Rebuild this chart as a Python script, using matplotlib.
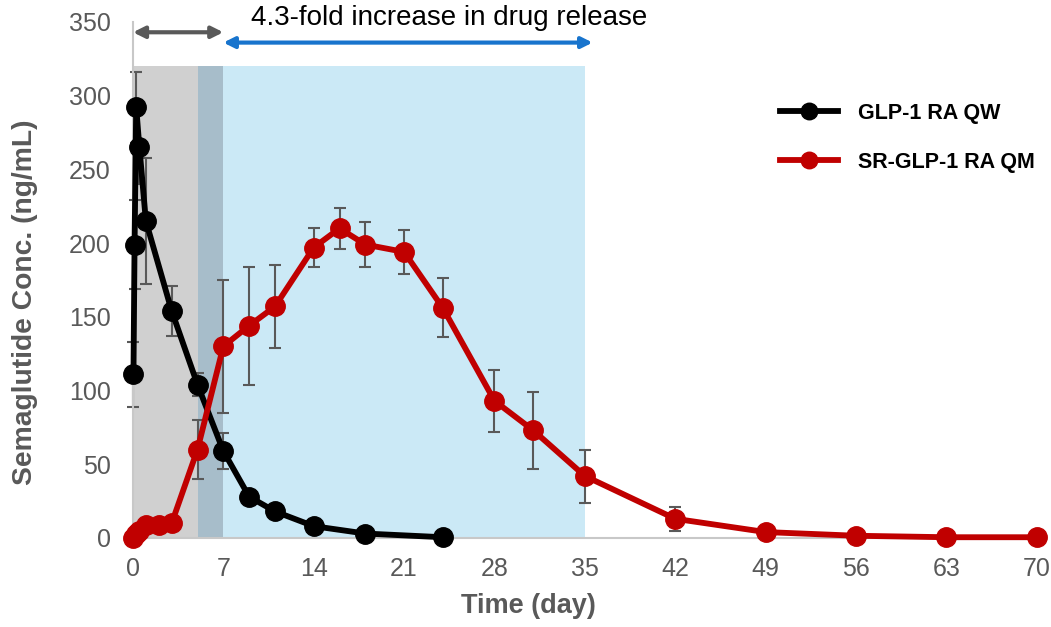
import matplotlib.pyplot as plt

plt.rcParams['font.family'] = ['Liberation Sans', 'DejaVu Sans']

# Semaglutide PK data
qw_days = [0.04, 0.125, 0.25, 0.5, 1, 3, 5, 7, 9, 11, 14, 18, 24]
qw_conc = [111, 199, 292, 265, 215, 154, 104, 59, 28, 18, 8, 3, 0.5]
qw_err = [22, 30, 24, 25, 43, 17, 8, 12, 0, 0, 0, 0, 0]

qm_days = [0, 0.25, 0.5, 1, 2, 3, 5, 7, 9, 11, 14, 16, 18, 21, 24, 28, 31, 35, 42, 49, 56, 63, 70]
qm_conc = [0, 3, 5, 9, 9, 10, 60, 130, 144, 157, 197, 210, 199, 194, 156, 93, 73, 42, 13, 4, 1.5, 0.5, 0.5]
qm_err = [0, 0, 0, 0, 0, 0, 20, 45, 40, 28, 13, 14, 15, 15, 20, 21, 26, 18, 8, 0, 0, 0, 0]

x_ticks = [0, 7, 14, 21, 28, 35, 42, 49, 56, 63, 70]
y_ticks = [0, 50, 100, 150, 200, 250, 300, 350]

qw_window = (0, 7)
qm_window = (5, 35)
shade_top = 320

GREY = '#595959'
RED = '#c00000'

fig = plt.figure(figsize=(10.51, 6.27), dpi=100)
ax = fig.add_axes([0.1265, 0.142, 0.860, 0.823])

# shaded dosing windows
ax.fill_between(qw_window, 0, shade_top, color='#d0d0d0', lw=0, zorder=0)
ax.fill_between(qm_window, 0, shade_top, color='#cbe9f6', lw=0, zorder=0)
ax.fill_between((qm_window[0], qw_window[1]), 0, shade_top, color='#a7bdca', lw=0, zorder=0)

for days, conc, err in [(qw_days, qw_conc, qw_err), (qm_days, qm_conc, qm_err)]:
    eb = ax.errorbar(days, conc, yerr=err, fmt='none', ecolor=GREY,
                     elinewidth=1.5, capsize=4, capthick=1.5, zorder=2)
    for art in eb.lines[1] + eb.lines[2]:
        art.set_clip_on(False)

ax.plot(qw_days, qw_conc, color='black', lw=4.2, marker='o', ms=14,
        label='GLP-1 RA QW', zorder=3, clip_on=False)
ax.plot(qm_days, qm_conc, color=RED, lw=4.2, marker='o', ms=14,
        label='SR-GLP-1 RA QM', zorder=4, clip_on=False)

# arrows
ax.annotate('', xy=(qw_window[0], 343), xytext=(qw_window[1], 343),
            arrowprops=dict(arrowstyle='<|-|>', color=GREY, lw=3,
                            mutation_scale=17, shrinkA=0, shrinkB=0))
ax.annotate('', xy=(qw_window[1], 336), xytext=(35.6, 336),
            arrowprops=dict(arrowstyle='<|-|>', color='#1874cd', lw=3,
                            mutation_scale=16, shrinkA=0, shrinkB=0))
ax.text(24.5, 352.5, '4.3-fold increase in drug release', ha='center', va='center',
        fontsize=20, color='black', clip_on=False)

ax.set_xlim(0, 70)
ax.set_ylim(0, 350)
ax.set_xticks(x_ticks)
ax.set_yticks(y_ticks)
ax.tick_params(length=0, labelsize=18, labelcolor=GREY)
ax.tick_params(axis='y', pad=16)
ax.tick_params(axis='x', pad=14)
for s in ['top', 'right']:
    ax.spines[s].set_visible(False)
for s in ['left', 'bottom']:
    ax.spines[s].set_color('#c8c8c8')
    ax.spines[s].set_linewidth(1.5)

ax.set_xlabel('Time (day)', fontsize=19.5, fontweight='bold', color=GREY)
ax.set_ylabel('Semaglutide Conc. (ng/mL)', fontsize=20.3, fontweight='bold', color=GREY)
ax.xaxis.set_label_coords(0.437, -0.107)
ax.yaxis.set_label_coords(-0.105, 0.457)

leg = fig.legend(loc='upper left', bbox_to_anchor=(0.742, 0.836), frameon=False,
                 prop={'weight': 'bold', 'size': 15.5}, handlelength=2.7,
                 handletextpad=0.93, labelspacing=1.3, borderpad=0,
                 borderaxespad=0, markerscale=0.85)

fig.savefig('out.png', dpi=100)
